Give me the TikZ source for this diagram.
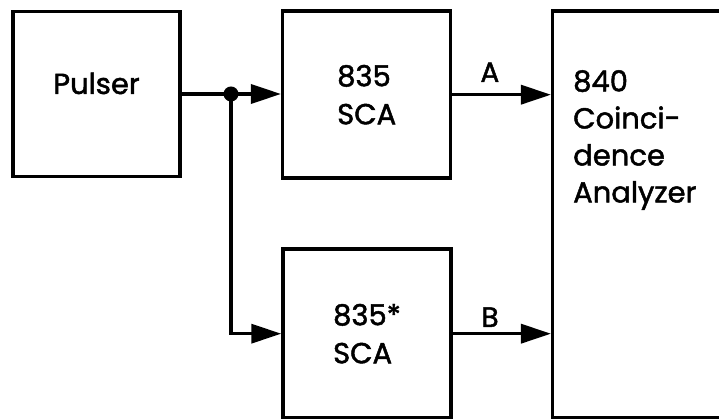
\documentclass[tikz,border=0pt]{standalone}
\usepackage{fontspec}
\setmainfont{Poppins}[BoldFont={Poppins}, BoldFeatures={FakeBold=1.6}]
\usetikzlibrary{arrows.meta,positioning}

\tikzset{
  unit/.style={draw, line width=3.5pt, inner sep=0pt, align=left,
    font=\fontsize{29}{38}\selectfont\bfseries},
  sig/.style={line width=3.5pt, -{Triangle[length=30pt,width=19pt]}},
  chlabel/.style={font=\fontsize{28}{30}\selectfont\bfseries, inner sep=2pt}
}

\begin{document}
\begin{tikzpicture}[x=1pt, y=1pt]
  \useasboundingbox (0,0) rectangle (719,419);
  \clip (0,0) rectangle (719,419);

  % === 方框 ===
  \node[unit, minimum width=167, minimum height=165, text height=20pt, text depth=20pt]
    (pulser) at (96.5,325) {Pulser};
  \node[unit, minimum width=168, minimum height=167] (scaA) at (366.7,324.3) {835\\SCA};
  \node[unit, minimum width=168, minimum height=169] (scaB) at (367,85.3) {835*\\SCA};

  % 符合分析器 (右边缘超出画面)
  \node[unit, minimum width=200, minimum height=407] (ana) at (652.7,204.5) {};
  \node[font=\fontsize{29}{37}\selectfont\bfseries, align=left, inner sep=0pt, anchor=north west]
    (anatext) at (573,349) {840\\Coinci-\\dence\\Analyzer};

  % === 信号线 ===
  \coordinate (split) at (231,325);
  \draw[sig] (pulser.east) -- (split) -- (pulser.east -| scaA.west);
  \draw[sig] (split) |- (scaB.west);
  \fill (split) circle (7.5pt);

  \draw[sig] (scaA.east) -- node[chlabel, above, pos=0.38, yshift=9pt] (labA) {A} (scaA.east -| ana.west);
  \draw[sig] (scaB.east) -- node[chlabel, above, pos=0.38, yshift=3pt] (labB) {B} (scaB.east -| ana.west);
\end{tikzpicture}
\end{document}
